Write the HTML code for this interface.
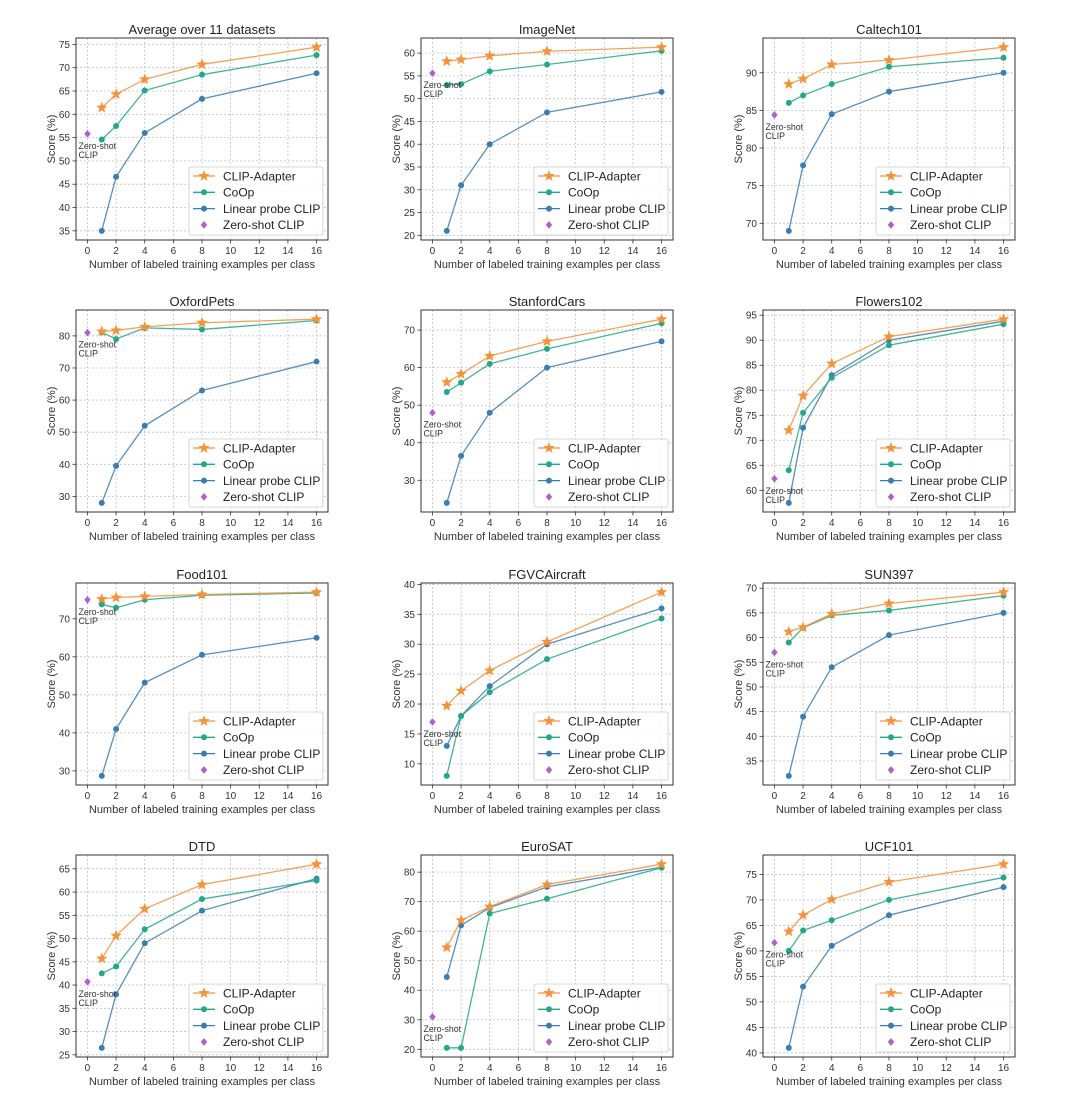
<!DOCTYPE html>
<html><head><meta charset="utf-8"><style>
html,body{margin:0;padding:0;background:#fff;}
svg{display:block;font-family:"Liberation Sans","DejaVu Sans",sans-serif;}
</style></head><body>
<svg id="fig" width="1080" height="1097" viewBox="0 0 1080 1097" xmlns="http://www.w3.org/2000/svg"></svg>
<script>
const shots = [1,2,4,8,16];
const titles = ["Average over 11 datasets","ImageNet","Caltech101","OxfordPets","StanfordCars","Flowers102","Food101","FGVCAircraft","SUN397","DTD","EuroSAT","UCF101"];
const zeroShot = [55.8,55.6,84.4,81,48,62.3,75,17,57,40.7,31,61.6];
const clipAdapter = [
 [61.4,64.3,67.5,70.7,74.4],[58.2,58.6,59.4,60.4,61.3],[88.5,89.2,91.1,91.7,93.4],
 [81.4,81.7,82.8,84.1,85.2],[56.1,58.3,63.1,67,72.9],[72,78.9,85.3,90.7,94.2],
 [75.2,75.6,75.9,76.4,77],[19.7,22.2,25.6,30.4,38.7],[61.2,62.1,64.8,66.9,69.2],
 [45.7,50.6,56.4,61.6,66],[54.5,63.7,68.3,75.8,82.7],[63.8,67,70.1,73.5,77]];
const coop = [
 [54.6,57.5,65.1,68.5,72.7],[53,53.2,56,57.5,60.5],[86,87,88.5,90.8,92],
 [81.1,79,82.5,82,84.8],[53.5,56,61,65,71.8],[64,75.5,82.5,89,93.2],
 [73.8,72.9,75,76.2,76.8],[8,18,22,27.5,34.3],[59,62,64.5,65.5,68.5],
 [42.5,44,52,58.5,62.5],[20.5,20.5,66,71,81.5],[60,64,66,70,74.4]];
const linearProbe = [
 [35,46.6,56,63.3,68.8],[21,31,40,47,51.5],[69,77.7,84.5,87.5,90],
 [28,39.5,52,63,72],[24,36.5,48,60,67],[57.5,72.5,83,90,93.8],
 [28.7,41,53.2,60.5,65],[13,18,23,30,36],[32,44,54,60.5,65],
 [26.5,38,49,56,62.9],[44.5,62,68,75,81.7],[41,53,61,67,72.5]];
const yTicks = [
 [35,40,45,50,55,60,65,70,75],[20,25,30,35,40,45,50,55,60],[70,75,80,85,90],
 [30,40,50,60,70,80],[30,40,50,60,70],[60,65,70,75,80,85,90,95],
 [30,40,50,60,70],[10,15,20,25,30,35,40],[35,40,45,50,55,60,65,70],
 [25,30,35,40,45,50,55,60,65],[20,30,40,50,60,70,80],[40,45,50,55,60,65,70,75]];
const xTicks = [0,2,4,6,8,10,12,14,16];

const NS="http://www.w3.org/2000/svg";
const svg=document.getElementById('fig');
function mk(tag,attrs,parent){const e=document.createElementNS(NS,tag);for(const k in attrs)e.setAttribute(k,attrs[k]);(parent||svg).appendChild(e);return e;}
const colL=[76,421,763], W=252, rowT=[38,310,583,855], H=202;
const C_CA="#f5923a", C_CO="#22a884", C_LP="#3a7db3", C_ZS="#b15ed0";
function starPath(cx,cy,R){let d="";const r=R*0.42;for(let i=0;i<10;i++){const a=-Math.PI/2+i*Math.PI/5;const rr=i%2?r:R;d+=(i?"L":"M")+(cx+rr*Math.cos(a)).toFixed(2)+","+(cy+rr*Math.sin(a)).toFixed(2);}return d+"Z";}
function diamond(cx,cy,s){return `M${cx},${cy-s}L${cx+s*0.85},${cy}L${cx},${cy+s}L${cx-s*0.85},${cy}Z`;}

titles.forEach((t,i)=>{
  const L=colL[i%3], T=rowT[Math.floor(i/3)];
  const g=mk('g',{});
  
  
  const all=[zeroShot[i],...clipAdapter[i],...coop[i],...linearProbe[i]];
  const mn=Math.min(...all), mx=Math.max(...all), rg=mx-mn;
  const y0=mn-0.05*rg, y1=mx+0.05*rg;
  const X=v=>L+(v+0.8)/17.6*W;
  const Y=v=>T+H-(v-y0)/(y1-y0)*H;
  xTicks.forEach(v=>{const l=mk('line',{x1:X(v),x2:X(v),y1:T,y2:T+H,stroke:"#c0c0c0","stroke-width":0.8,"stroke-dasharray":"2,2"},g);
    
    mk('line',{x1:X(v),x2:X(v),y1:T+H,y2:T+H+3.5,stroke:"#333","stroke-width":0.8},g);
    const tx=mk('text',{x:X(v),y:T+H+14,"font-size":10,"text-anchor":"middle",fill:"#333"},g);tx.textContent=v;
    });
  yTicks[i].forEach(v=>{const l=mk('line',{x1:L,x2:L+W,y1:Y(v),y2:Y(v),stroke:"#c0c0c0","stroke-width":0.8,"stroke-dasharray":"2,2"},g);
    
    mk('line',{x1:L-3.5,x2:L,y1:Y(v),y2:Y(v),stroke:"#333","stroke-width":0.8},g);
    const tx=mk('text',{x:L-6,y:Y(v)+3.5,"font-size":10,"text-anchor":"end",fill:"#333"},g);tx.textContent=v;
    });
  const fr=mk('rect',{x:L,y:T,width:W,height:H,fill:"none",stroke:"#333","stroke-width":1},g);
  
  const ti=mk('text',{x:L+W/2,y:T-4,"font-size":13,"text-anchor":"middle",fill:"#222"},g);ti.textContent=t;
  
  const yl=mk('text',{x:0,y:0,"font-size":11,"text-anchor":"middle",fill:"#333",transform:`translate(${L-21},${T+H/2}) rotate(-90)`},g);yl.textContent="Score (%)";
  
  const xl=mk('text',{x:L+W/2,y:T+H+28,"font-size":11,"text-anchor":"middle",fill:"#333"},g);xl.textContent="Number of labeled training examples per class";
  
  [[linearProbe[i],C_LP,'linear-probe'],[coop[i],C_CO,'coop'],[clipAdapter[i],C_CA,'clip-adapter']].forEach(([d,c,n])=>{
    const pl=mk('polyline',{points:d.map((v,k)=>X(shots[k])+","+Y(v)).join(" "),fill:"none",stroke:c,"stroke-width":1.3,"stroke-opacity":0.85},g);
    
    d.forEach((v,k)=>{let m;
      if(n==='clip-adapter'){m=mk('path',{d:starPath(X(shots[k]),Y(v),6),fill:c},g);}
      else{m=mk('circle',{cx:X(shots[k]),cy:Y(v),r:3,fill:c},g);}
      });
  });
  const zs=mk('path',{d:diamond(X(0),Y(zeroShot[i]),3.8),fill:C_ZS},g);
  
  const za=mk('text',{x:X(0)-9,y:Y(zeroShot[i])+15,"font-size":8.8,fill:"#333"},g);
  
  const s1=mk('tspan',{x:X(0)-9,dy:0},za);s1.textContent="Zero-shot";
  const s2=mk('tspan',{x:X(0)-9,dy:9},za);s2.textContent="CLIP";
  const lg=mk('g',{},g);
  const lx=L+W-139, ly=T+H-73;
  mk('rect',{x:lx,y:ly,width:134,height:68,rx:2,fill:"#fff","fill-opacity":0.85,stroke:"#ccc","stroke-width":0.8},lg);
  [["CLIP-Adapter",C_CA,'star'],["CoOp",C_CO,'circle'],["Linear probe CLIP",C_LP,'circle'],["Zero-shot CLIP",C_ZS,'diamond']].forEach(([lab,c,mt],k)=>{
    const e=mk('g',{},lg);
    const cy=ly+9+k*16.3, hx=lx+15;
    if(mt!=='diamond')mk('line',{x1:lx+4,x2:lx+26,y1:cy,y2:cy,stroke:c,"stroke-width":1.3},e);
    if(mt==='star')mk('path',{d:starPath(hx,cy,6),fill:c},e);
    else if(mt==='circle')mk('circle',{cx:hx,cy:cy,r:3,fill:c},e);
    else mk('path',{d:diamond(hx,cy,3.8),fill:c},e);
    const tx=mk('text',{x:lx+34,y:cy+4.3,"font-size":12,fill:"#222"},e);tx.textContent=lab;
  });
});
</script>
</body></html>
